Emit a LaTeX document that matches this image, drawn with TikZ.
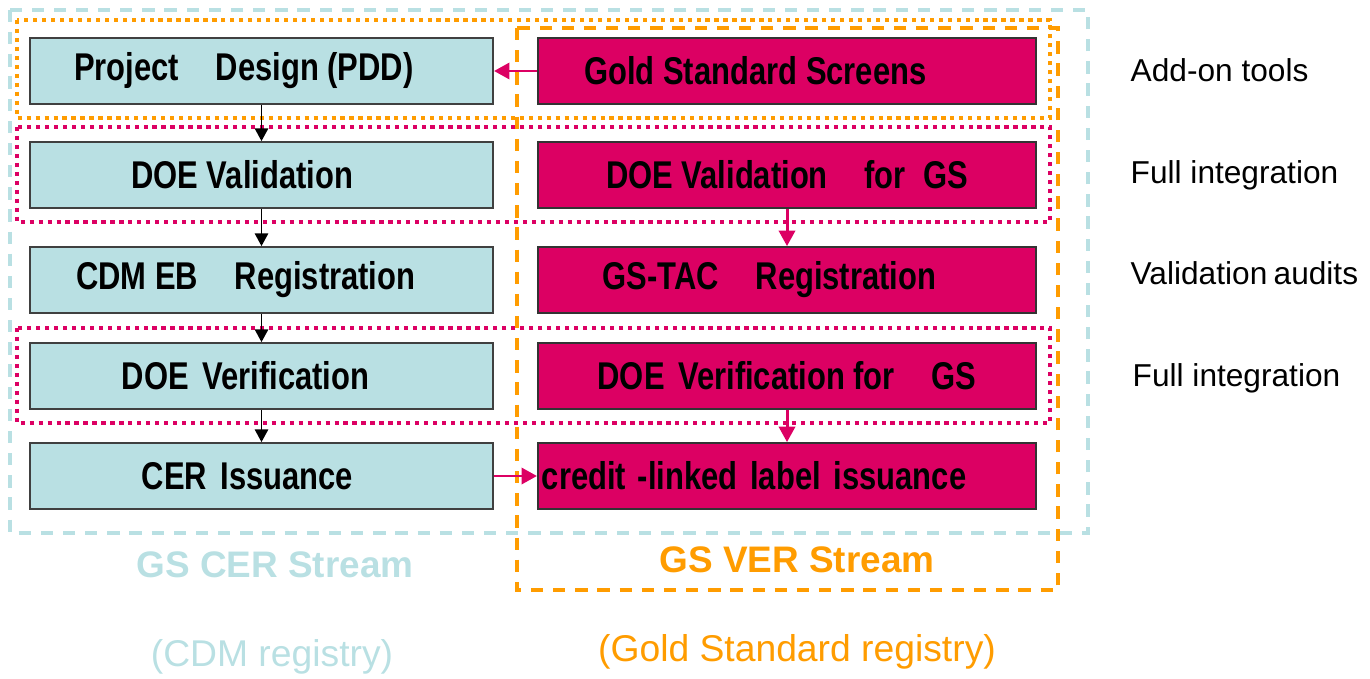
\documentclass[tikz,border=0pt]{standalone}
\usepackage{fontspec}
\setmainfont{Liberation Sans}
\newfontfamily\narrowfont[FakeStretch=0.8]{Liberation Sans}
\usetikzlibrary{arrows.meta}
\definecolor{cerblue}{HTML}{B9E0E3}
\definecolor{gspink}{HTML}{DC0063}
\definecolor{gsorange}{HTML}{FF9C00}
\tikzset{
  cerbox/.style={draw=black!75, fill=cerblue, line width=0.5pt, minimum width=4.63cm, minimum height=0.66cm, inner sep=0pt, font=\narrowfont\bfseries\fontsize{11}{13}\selectfont},
  verbox/.style={draw=black!80, fill=gspink, line width=0.5pt, minimum width=4.98cm, minimum height=0.66cm, inner sep=0pt, font=\narrowfont\bfseries\fontsize{11}{13}\selectfont},
  sidelabel/.style={anchor=west, inner sep=0pt, font=\fontsize{9}{11}\selectfont},
  blackarrow/.style={draw=black, line width=0.4pt, -{Triangle[length=3.6pt,width=3.8pt]}},
  pinkarrow/.style={draw=gspink, line width=0.85pt, -{Triangle[length=4.4pt,width=4.6pt]}},
  dotline/.style={line width=1.2pt, dash pattern=on 1.2pt off 1.35pt},
  dashline/.style={line width=1.2pt, dash pattern=on 3.5pt off 2.8pt}
}
\newcommand{\gap}{\hspace{0.95em}}
\begin{document}
\begin{tikzpicture}[x=0.01cm, y=-0.01cm]
\useasboundingbox (0,0) rectangle (1370,679);
% stream frames
\draw[dashline, cerblue] (10,10) rectangle (1088,533);
\draw[dashline, gsorange] (517,28) rectangle (1058,590);
\draw[dotline, gsorange] (17,20) rectangle (1050,118);
\draw[dotline, gspink] (17,127) rectangle (1050,222);
\draw[dotline, gspink] (17,328) rectangle (1050,423);

% CDM side
\node[cerbox] (pdd) at (261.5,71) {\hspace*{-10pt}Project\gap Design (PDD)};
\node[cerbox] (val) at (261.5,175) {\hspace*{-11pt}DOE Validation};
\node[cerbox] (reg) at (261.5,280) {\hspace*{-9pt}CDM EB\gap Registration};
\node[cerbox] (ver) at (261.5,376) {\hspace*{-9pt}DOE\hspace{0.35em}Verification};
\node[cerbox] (iss) at (261.5,476) {\hspace*{-8pt}CER\hspace{0.35em}Issuance};

% Gold Standard side
\node[verbox] (screens) at (787,71) {\hspace*{-18pt}Gold Standard Screens};
\node[verbox] (gsval) at (787,175) {DOE Validation\gap for\hspace{0.45em}GS};
\node[verbox] (gsreg) at (787,280) {\hspace*{-10pt}GS-TAC\gap Registration};
\node[verbox] (gsver) at (787,376) {DOE\hspace{0.35em}Verification for\gap GS};
\node[verbox, text width=4.9cm, align=left] (label) at (787,476) {credit\hspace{0.3em}-linked label issuance};

\draw[blackarrow] (pdd) -- (val);
\draw[blackarrow] (val) -- (reg);
\draw[blackarrow] (reg) -- (ver);
\draw[blackarrow] (ver) -- (iss);
\draw[pinkarrow] (screens) -- (pdd);
\draw[pinkarrow] (gsval) -- (gsreg);
\draw[pinkarrow] (gsver) -- (label);
\draw[pinkarrow] (iss) -- (label);

% right hand notes
\node[sidelabel] (addon) at (1130,70) {Add-on tools};
\node[sidelabel] (full1) at (1130,175) {Full integration};
\node[sidelabel] (audits) at (1130,273) {Validation\hspace{0.2em}audits};
\node[sidelabel] (full2) at (1132,378) {Full integration};

% stream titles
\node[text=cerblue, font=\bfseries\fontsize{10.5}{12}\selectfont] (certitle) at (275,565) {GS CER Stream};
\node[text=gsorange, font=\bfseries\fontsize{10.5}{12}\selectfont] (vertitle) at (797,560) {GS VER Stream};
\node[text=cerblue, font=\fontsize{10.6}{13}\selectfont] (cdmreg) at (272,657) {(CDM registry)};
\node[text=gsorange, font=\fontsize{10.6}{13}\selectfont] (gsregistry) at (797,652) {(Gold Standard registry)};
\end{tikzpicture}
\end{document}
